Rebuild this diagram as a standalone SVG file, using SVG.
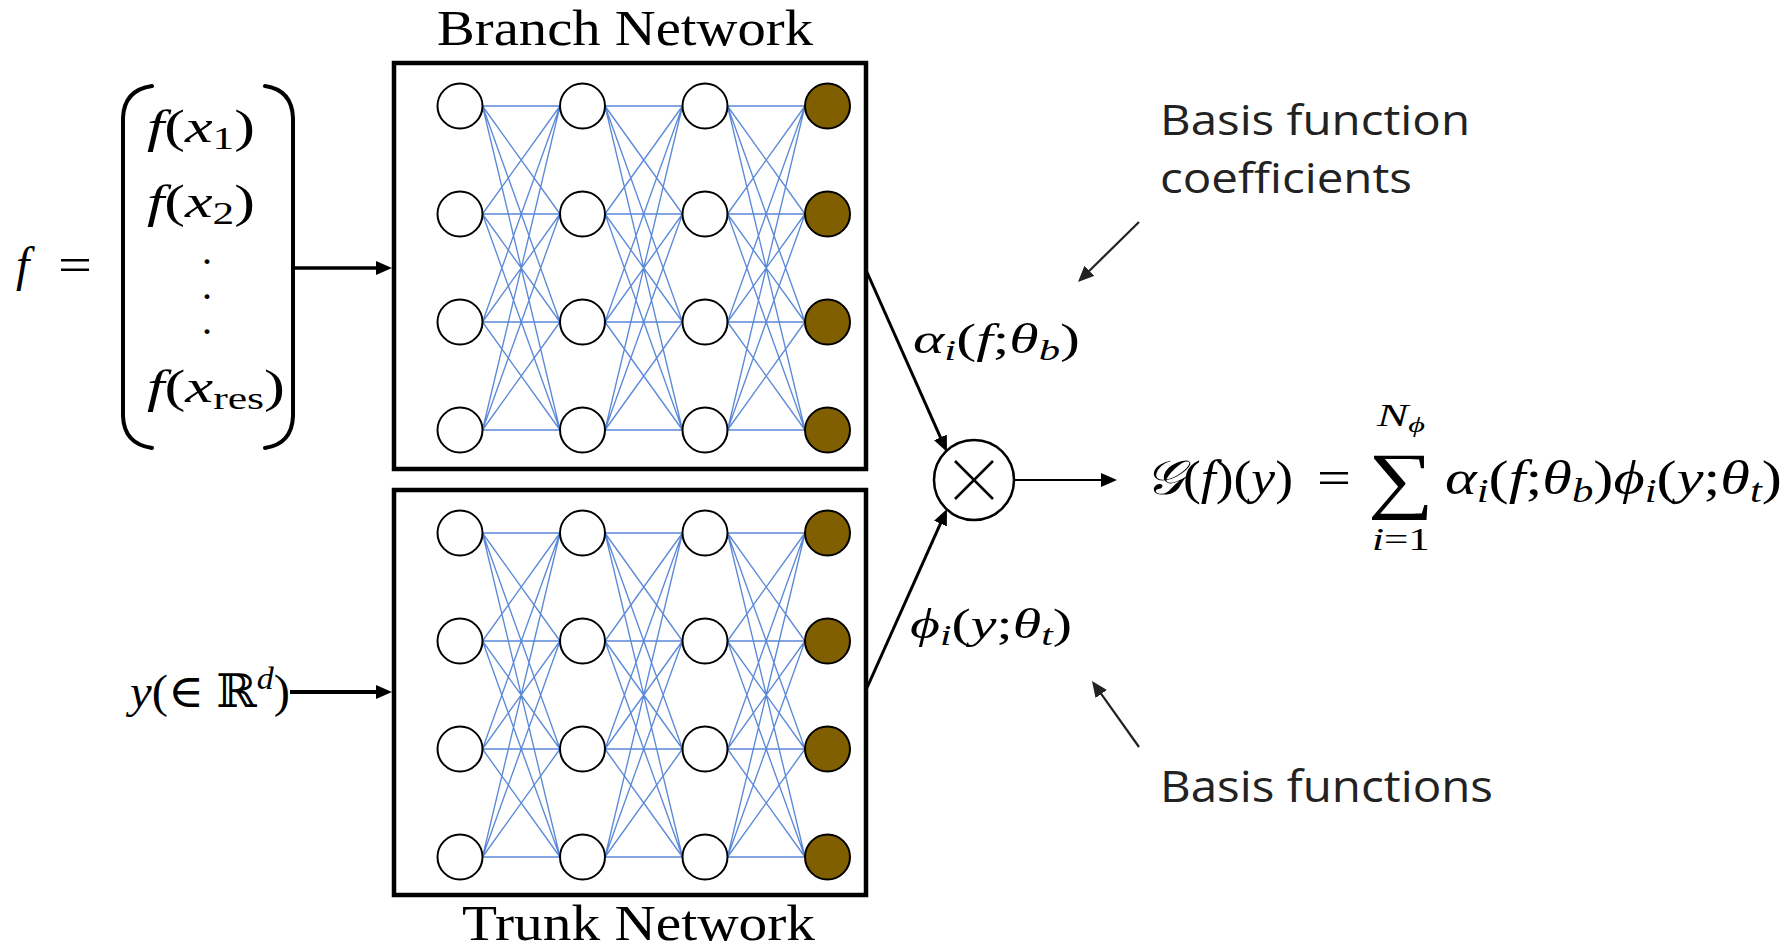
<svg xmlns="http://www.w3.org/2000/svg" xmlns:xlink="http://www.w3.org/1999/xlink" width="1790" height="951" viewBox="0 0 1790 951">
<style>
.m{font-family:"Liberation Serif","DejaVu Serif","DejaVu Sans",serif;fill:#000}
.i{font-style:italic}
.s{font-family:"Open Sans","Noto Sans","Liberation Sans",sans-serif;fill:#222}
.box{fill:#fff;stroke:#000;stroke-width:4.5}
.n{fill:#fff;stroke:#000;stroke-width:2}
.o{fill:#7f5f00;stroke:#000;stroke-width:2}
.e{fill:none;stroke:#5283d6;stroke-width:1.35;stroke-opacity:0.95}
.br{fill:none;stroke:#000;stroke-width:4;stroke-linecap:round}
.c{fill:none;stroke:#000}
</style>
<defs>
<marker id="ah" markerUnits="userSpaceOnUse" markerWidth="16" markerHeight="14" refX="6" refY="7" orient="auto" viewBox="0 0 16 14">
<path d="M0,0 L16,7 L0,14 Z" fill="#000"/>
</marker>
<marker id="ahg" markerUnits="userSpaceOnUse" markerWidth="16" markerHeight="14" refX="6" refY="7" orient="auto" viewBox="0 0 16 14">
<path d="M0,0 L16,7 L0,14 Z" fill="#222"/>
</marker>
<path id="fc" class="e" d="M0 0L77.5 0M0 0L77.5 108M0 0L77.5 216M0 0L77.5 324M0 108L77.5 0M0 108L77.5 108M0 108L77.5 216M0 108L77.5 324M0 216L77.5 0M0 216L77.5 108M0 216L77.5 216M0 216L77.5 324M0 324L77.5 0M0 324L77.5 108M0 324L77.5 216M0 324L77.5 324"/>
<g id="col">
<circle cx="0" cy="0" r="22.5"/><circle cx="0" cy="108" r="22.5"/><circle cx="0" cy="216" r="22.5"/><circle cx="0" cy="324" r="22.5"/>
</g>
</defs>
<rect width="1790" height="951" fill="#fff"/>

<g id="branch-net">
<rect class="box" x="394" y="63" width="472" height="406"/>
<use href="#fc" x="482.5" y="106"/>
<use href="#fc" x="605" y="106"/>
<use href="#fc" x="727.5" y="106"/>
<use href="#col" class="n" x="460" y="106"/>
<use href="#col" class="n" x="582.5" y="106"/>
<use href="#col" class="n" x="705" y="106"/>
<use href="#col" class="o" x="827.5" y="106"/>
<text class="m" x="437" y="45" font-size="50" textLength="376" lengthAdjust="spacingAndGlyphs">Branch Network</text>
</g>

<g id="trunk-net">
<rect class="box" x="394" y="490" width="472" height="405"/>
<use href="#fc" x="482.5" y="533"/>
<use href="#fc" x="605" y="533"/>
<use href="#fc" x="727.5" y="533"/>
<use href="#col" class="n" x="460" y="533"/>
<use href="#col" class="n" x="582.5" y="533"/>
<use href="#col" class="n" x="705" y="533"/>
<use href="#col" class="o" x="827.5" y="533"/>
<text class="m" x="462" y="939.5" font-size="50" textLength="353" lengthAdjust="spacingAndGlyphs">Trunk Network</text>
</g>

<g id="input-f">
<text class="m i" x="16" y="281" font-size="48">f</text>
<text class="m" x="58" y="281" font-size="48" textLength="34" lengthAdjust="spacingAndGlyphs">=</text>
<path class="br" d="M152,86 Q124,90 123,118 L123,416 Q124,444 152,448"/>
<path class="br" d="M265,86 Q292,90 293,118 L293,416 Q292,444 265,448"/>
<text class="m" x="147" y="142" font-size="46" textLength="108" lengthAdjust="spacingAndGlyphs"><tspan class="i">f</tspan>(<tspan class="i">x</tspan><tspan font-size="32" dy="7">1</tspan><tspan dy="-7">)</tspan></text>
<text class="m" x="147" y="217" font-size="46" textLength="108" lengthAdjust="spacingAndGlyphs"><tspan class="i">f</tspan>(<tspan class="i">x</tspan><tspan font-size="32" dy="7">2</tspan><tspan dy="-7">)</tspan></text>
<text class="m" font-size="30" font-weight="bold"><tspan x="203.3" y="264">.</tspan><tspan x="203.3" y="299">.</tspan><tspan x="203.3" y="334">.</tspan></text>
<text class="m" x="147" y="402" font-size="46" textLength="138" lengthAdjust="spacingAndGlyphs"><tspan class="i">f</tspan>(<tspan class="i">x</tspan><tspan font-size="32" dy="7">res</tspan><tspan dy="-7">)</tspan></text>
</g>

<g id="input-y">
<text class="m" x="130" y="707" font-size="46" textLength="160" lengthAdjust="spacingAndGlyphs"><tspan class="i">y</tspan>(∈ ℝ<tspan class="i" font-size="32" dy="-18">d</tspan><tspan dy="18">)</tspan></text>
</g>

<g id="multiply">
<circle cx="974" cy="480" r="40" fill="#fff" stroke="#000" stroke-width="2.5"/>
<path d="M955,461 L993,499 M993,461 L955,499" stroke="#000" stroke-width="2.5"/>
</g>

<g id="label-alpha">
<text class="m" x="913" y="353" font-size="42" textLength="167" lengthAdjust="spacingAndGlyphs"><tspan class="i">α</tspan><tspan class="i" font-size="30" dy="7">i</tspan><tspan dy="-7">(</tspan><tspan class="i">f</tspan>;<tspan class="i">θ</tspan><tspan class="i" font-size="30" dy="7">b</tspan><tspan dy="-7">)</tspan></text>
</g>

<g id="label-phi">
<text class="m" x="910" y="638" font-size="42" textLength="162" lengthAdjust="spacingAndGlyphs"><tspan class="i">ϕ</tspan><tspan class="i" font-size="30" dy="7">i</tspan><tspan dy="-7">(</tspan><tspan class="i">y</tspan>;<tspan class="i">θ</tspan><tspan class="i" font-size="30" dy="7">t</tspan><tspan dy="-7">)</tspan></text>
</g>

<g id="output-formula">
<text class="m" x="1145" y="494" font-size="48" textLength="148" lengthAdjust="spacingAndGlyphs"><tspan class="i">𝒢</tspan>(<tspan class="i">f</tspan>)(<tspan class="i">y</tspan>)</text>
<text class="m" x="1317" y="494" font-size="48" textLength="34" lengthAdjust="spacingAndGlyphs">=</text>
<text class="m" x="1368" y="504.3" font-size="74" textLength="66" lengthAdjust="spacingAndGlyphs">∑</text>
<text class="m" x="1377" y="426" font-size="32" textLength="48" lengthAdjust="spacingAndGlyphs"><tspan class="i">N</tspan><tspan class="i" font-size="22" dy="6">ϕ</tspan></text>
<text class="m" x="1372" y="550" font-size="32" textLength="58" lengthAdjust="spacingAndGlyphs"><tspan class="i">i</tspan>=1</text>
<text class="m" x="1445" y="494" font-size="48" textLength="337" lengthAdjust="spacingAndGlyphs"><tspan class="i">α</tspan><tspan class="i" font-size="34" dy="8">i</tspan><tspan dy="-8">(</tspan><tspan class="i">f</tspan>;<tspan class="i">θ</tspan><tspan class="i" font-size="34" dy="8">b</tspan><tspan dy="-8">)</tspan><tspan class="i">ϕ</tspan><tspan class="i" font-size="34" dy="8">i</tspan><tspan dy="-8">(</tspan><tspan class="i">y</tspan>;<tspan class="i">θ</tspan><tspan class="i" font-size="34" dy="8">t</tspan><tspan dy="-8">)</tspan></text>
</g>

<g id="annot-coefficients">
<text class="s" x="1160" y="135" font-size="42" textLength="310" lengthAdjust="spacingAndGlyphs">Basis function</text>
<text class="s" x="1160" y="192.5" font-size="42" textLength="252" lengthAdjust="spacingAndGlyphs">coefficients</text>
</g>

<g id="annot-basis">
<text class="s" x="1160" y="802" font-size="44" textLength="333" lengthAdjust="spacingAndGlyphs">Basis functions</text>
</g>

<g id="connectors">
<line class="c" x1="293" y1="268" x2="382" y2="268" stroke-width="3.5" marker-end="url(#ah)"/>
<line class="c" x1="290" y1="692" x2="382" y2="692" stroke-width="4" marker-end="url(#ah)"/>
<line class="c" x1="866" y1="270" x2="942.9" y2="442.9" stroke-width="3" marker-end="url(#ah)"/>
<line class="c" x1="866" y1="690" x2="942.9" y2="518.1" stroke-width="3" marker-end="url(#ah)"/>
<line class="c" x1="1014" y1="480" x2="1107" y2="480" stroke-width="2.2" marker-end="url(#ah)"/>
<line x1="1139" y1="222" x2="1085.1" y2="275" stroke="#222" stroke-width="2.2" marker-end="url(#ahg)"/>
<line x1="1139" y1="747" x2="1097.8" y2="689.1" stroke="#222" stroke-width="2.2" marker-end="url(#ahg)"/>
</g>
</svg>
